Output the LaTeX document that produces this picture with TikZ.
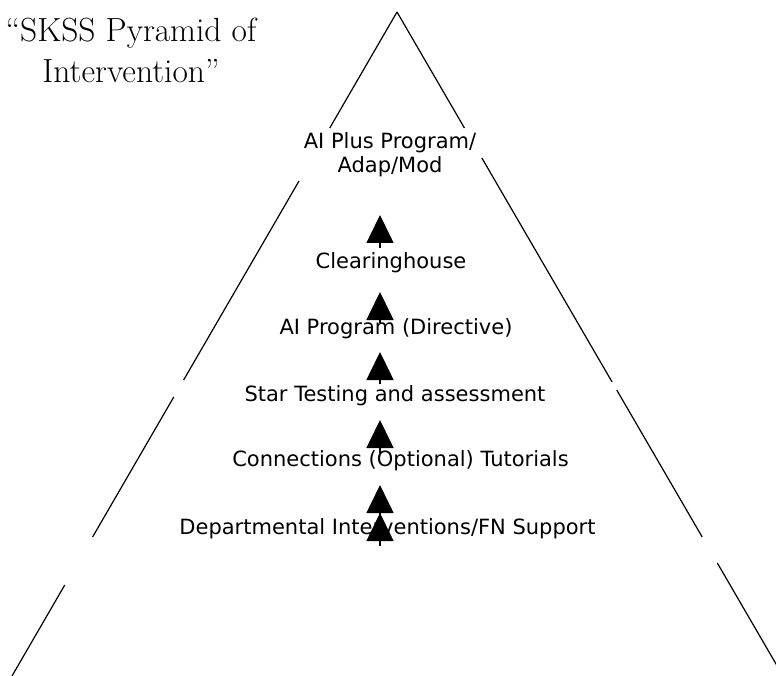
\documentclass[tikz,border=0pt]{standalone}
\usepackage{fontspec}
\usepackage{tikz}
\usetikzlibrary{positioning}
\usetikzlibrary{arrows.meta, calc}
\newfontfamily\dejavu{DejaVu Sans}
\tikzstyle{uparrow} = [line width=1.6pt, -{Triangle[width=27pt,length=28pt]}]
\tikzstyle{side} = [line width=1.2pt]

\begin{document}
\begin{tikzpicture}[
    x = 1pt, y = -1pt,
    every node/.style = {inner sep = 0pt, anchor = base},
    tier/.style = {font = \dejavu\fontsize{21}{24}\selectfont, align = center}
  ]
  \useasboundingbox (0,0) rectangle (776,676);

  % corners of the pyramid
  \coordinate (apex) at (397,12);
  \coordinate (bl) at (12,676);
  \coordinate (br) at (783,676);

  % sides, broken where the boxes sat
  \begin{scope}
    \clip (0,0) rectangle (776,676);
    \foreach \a/\b in {0/0.1747, 0.2545/0.5542, 0.5798/0.7907, 0.8630/1}
      \draw[side] ($(apex)!\a!(bl)$) -- ($(apex)!\b!(bl)$);
    \foreach \a/\b in {0/0.1747, 0.2199/0.5572, 0.5693/0.7907, 0.8298/1}
      \draw[side] ($(apex)!\a!(br)$) -- ($(apex)!\b!(br)$);
  \end{scope}

  % Title (base = last line)
  \node[font = \fontsize{33.5}{41}\selectfont, align = center] (title) at (131,83)
    {“SKSS Pyramid of\\Intervention”};

  % Levels
  \node[tier] (plus)   at (390,173)   {AI Plus Program/\\Adap/Mod};
  \node[tier] (clear)  at (391,269)   {Clearinghouse};
  \node[tier] (aiprog) at (396,334)   {AI Program (Directive)};
  \node[tier] (star)   at (395,401)   {Star Testing and assessment};
  \node[tier] (conn)   at (400.5,466) {Connections (Optional) Tutorials};
  \node[tier] (dept)   at (387.5,534) {Departmental Interventions/FN Support};

  % Arrows
  \foreach \n/\lo/\hi in {1/248/215, 2/323/292, 3/384/352, 4/453/420, 5/518/485, 6/546/513} {
    \coordinate (lo\n) at (380,\lo);
    \coordinate (hi\n) at (380,\hi);
    \draw[uparrow] (lo\n) -- (hi\n);
  }
\end{tikzpicture}
\end{document}
